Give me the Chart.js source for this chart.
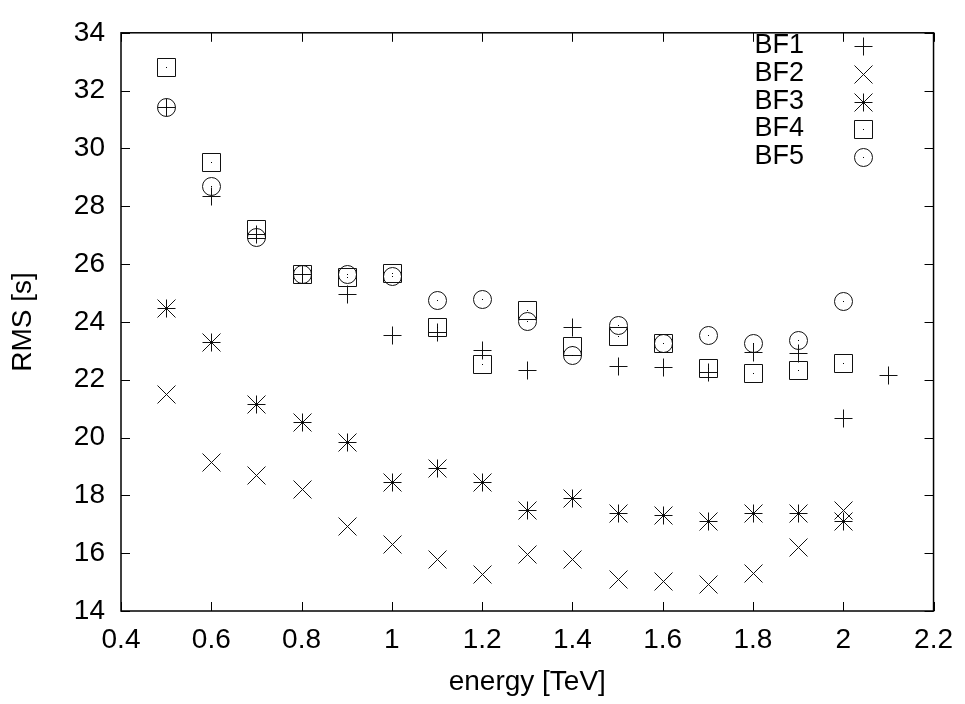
<!DOCTYPE html>
<html>
<head>
<meta charset="utf-8">
<title>RMS vs energy</title>
<script src="https://cdn.jsdelivr.net/npm/chart.js@4.4.1/dist/chart.umd.min.js"></script>
<style>
  html, body { margin: 0; padding: 0; background: #fff; }
  canvas { display: block; }
</style>
</head>
<body>
<canvas id="chart" width="965" height="704"></canvas>
<script>
// energy bins [TeV]
const energy = [0.5, 0.6, 0.7, 0.8, 0.9, 1.0, 1.1, 1.2, 1.3, 1.4, 1.5, 1.6, 1.7, 1.8, 1.9, 2.0];
const energyBF1 = [0.5, 0.6, 0.7, 0.8, 0.9, 1.0, 1.1, 1.2, 1.3, 1.4, 1.5, 1.6, 1.7, 1.8, 1.9, 2.0, 2.1];

// RMS [s] per set
const bf1 = [31.42, 28.36, 27.03, 25.67, 24.95, 23.55, 23.66, 23.04, 22.33, 23.83, 22.48, 22.44, 22.25, 22.95, 22.93, 20.66, 22.17];
const bf2 = [21.51, 19.16, 18.69, 18.23, 16.95, 16.31, 15.80, 15.29, 15.97, 15.80, 15.09, 15.03, 14.95, 15.31, 16.23, 17.50];
const bf3 = [24.47, 23.29, 21.17, 20.55, 19.84, 18.46, 18.94, 18.46, 17.50, 17.91, 17.38, 17.33, 17.12, 17.40, 17.40, 17.10];
const bf4 = [32.83, 29.53, 27.20, 25.65, 25.55, 25.70, 23.83, 22.56, 24.40, 23.15, 23.52, 23.27, 22.42, 22.24, 22.35, 22.59];
const bf5 = [31.42, 28.70, 26.95, 25.65, 25.65, 25.58, 24.76, 24.80, 24.04, 22.87, 23.89, 23.27, 23.55, 23.27, 23.38, 24.71];

const seriesNames = ["BF1", "BF2", "BF3", "BF4", "BF5"];

const FONT = "'Liberation Sans', Arial, Helvetica, sans-serif";

// gnuplot-like point symbols drawn on little canvases
function makeSymbol(kind) {
  const c = document.createElement("canvas");
  c.width = 21;
  c.height = 21;
  const g = c.getContext("2d");
  const m = 10.5, r = 9;
  g.strokeStyle = "#111";
  g.fillStyle = "#000";
  g.lineWidth = 1;
  g.beginPath();
  if (kind === "plus" || kind === "star") {
    g.moveTo(m - r, m); g.lineTo(m + r, m);
    g.moveTo(m, m - r); g.lineTo(m, m + r);
  }
  if (kind === "cross" || kind === "star") {
    g.moveTo(m - r, m - r); g.lineTo(m + r, m + r);
    g.moveTo(m - r, m + r); g.lineTo(m + r, m - r);
  }
  if (kind === "box") {
    g.rect(m - r, m - r, 2 * r, 2 * r);
  }
  if (kind === "circle") {
    g.arc(m, m, r, 0, Math.PI * 2);
  }
  g.stroke();
  if (kind === "box" || kind === "circle" || kind === "star") {
    g.fillRect(10, 10, 1, 1);
  }
  return c;
}

const symbols = [makeSymbol("plus"), makeSymbol("cross"), makeSymbol("star"), makeSymbol("box"), makeSymbol("circle")];

function pts(xs, ys) {
  return xs.map((x, i) => ({ x: x, y: ys[i] }));
}

const seriesData = [pts(energyBF1, bf1), pts(energy, bf2), pts(energy, bf3), pts(energy, bf4), pts(energy, bf5)];

// draw the symbols snapped to whole pixels so they stay crisp
const crispPoints = {
  id: "crispPoints",
  afterDatasetsDraw(chart) {
    const ctx = chart.ctx;
    chart.data.datasets.forEach((ds, i) => {
      const meta = chart.getDatasetMeta(i);
      meta.data.forEach((el) => {
        ctx.drawImage(symbols[i], Math.round(el.x) - 10, Math.round(el.y) - 10);
      });
    });
  },
};

// frame, inward ticks on all four sides, legend at top right
const gnuplotFrame = {
  id: "gnuplotFrame",
  afterDraw(chart) {
    const ctx = chart.ctx;
    const a = chart.chartArea;
    const xs = chart.scales.x;
    const ys = chart.scales.y;
    const tl = 9;
    ctx.save();
    ctx.strokeStyle = "#000";
    ctx.lineWidth = 1;
    ctx.beginPath();
    xs.ticks.forEach((t) => {
      const px = Math.round(xs.getPixelForValue(t.value)) + 0.5;
      ctx.moveTo(px, a.bottom); ctx.lineTo(px, a.bottom - tl);
      ctx.moveTo(px, a.top); ctx.lineTo(px, a.top + tl);
    });
    ys.ticks.forEach((t) => {
      const py = Math.round(ys.getPixelForValue(t.value)) + 0.5;
      ctx.moveTo(a.left, py); ctx.lineTo(a.left + tl, py);
      ctx.moveTo(a.right, py); ctx.lineTo(a.right - tl, py);
    });
    ctx.stroke();
    ctx.lineWidth = 1.5;
    ctx.strokeRect(a.left, a.top, a.right - a.left, a.bottom - a.top);

    // legend
    ctx.font = "27px " + FONT;
    ctx.fillStyle = "#000";
    ctx.textAlign = "right";
    ctx.textBaseline = "middle";
    chart.data.datasets.forEach((ds, i) => {
      const y = Math.round(46 + i * 27.8);
      ctx.fillText(ds.label, 804, y);
      ctx.drawImage(symbols[i], 863 - 10, y - 10);
    });
    ctx.restore();
  },
};

const ctx = document.getElementById("chart").getContext("2d");
new Chart(ctx, {
  type: "scatter",
  data: {
    datasets: seriesNames.map((name, i) => ({
      label: name,
      data: seriesData[i],
      pointStyle: "circle",
      pointRadius: 0,
      pointHoverRadius: 0,
      borderColor: "#000",
      backgroundColor: "#000",
    })),
  },
  options: {
    responsive: false,
    animation: false,
    events: [],
    layout: {
      padding: { left: 0, right: 30, top: 22, bottom: 0 },
    },
    plugins: {
      legend: { display: false },
      tooltip: { enabled: false },
    },
    scales: {
      x: {
        type: "linear",
        min: 0.4,
        max: 2.2,
        grid: { display: true, drawOnChartArea: false, drawTicks: false },
        border: { display: false },
        ticks: {
          stepSize: 0.2,
          padding: 12,
          color: "#000",
          font: { family: FONT, size: 28 },
          callback: (v) => String(+Number(v).toFixed(1)),
        },
        title: {
          display: true,
          text: "energy [TeV]",
          color: "#000",
          font: { family: FONT, size: 28 },
          padding: { top: 0, bottom: 5 },
        },
        afterFit: (scale) => {
          scale.height = 93;
        },
      },
      y: {
        type: "linear",
        min: 14,
        max: 34,
        grid: { display: true, drawOnChartArea: false, drawTicks: false },
        border: { display: false },
        ticks: {
          stepSize: 2,
          padding: 16,
          color: "#000",
          font: { family: FONT, size: 28 },
        },
        title: {
          display: true,
          text: "RMS [s]",
          color: "#000",
          font: { family: FONT, size: 28 },
          padding: { top: 6, bottom: 0 },
        },
        afterFit: (scale) => {
          scale.width = 121;
        },
      },
    },
  },
  plugins: [crispPoints, gnuplotFrame],
});
</script>
</body>
</html>
